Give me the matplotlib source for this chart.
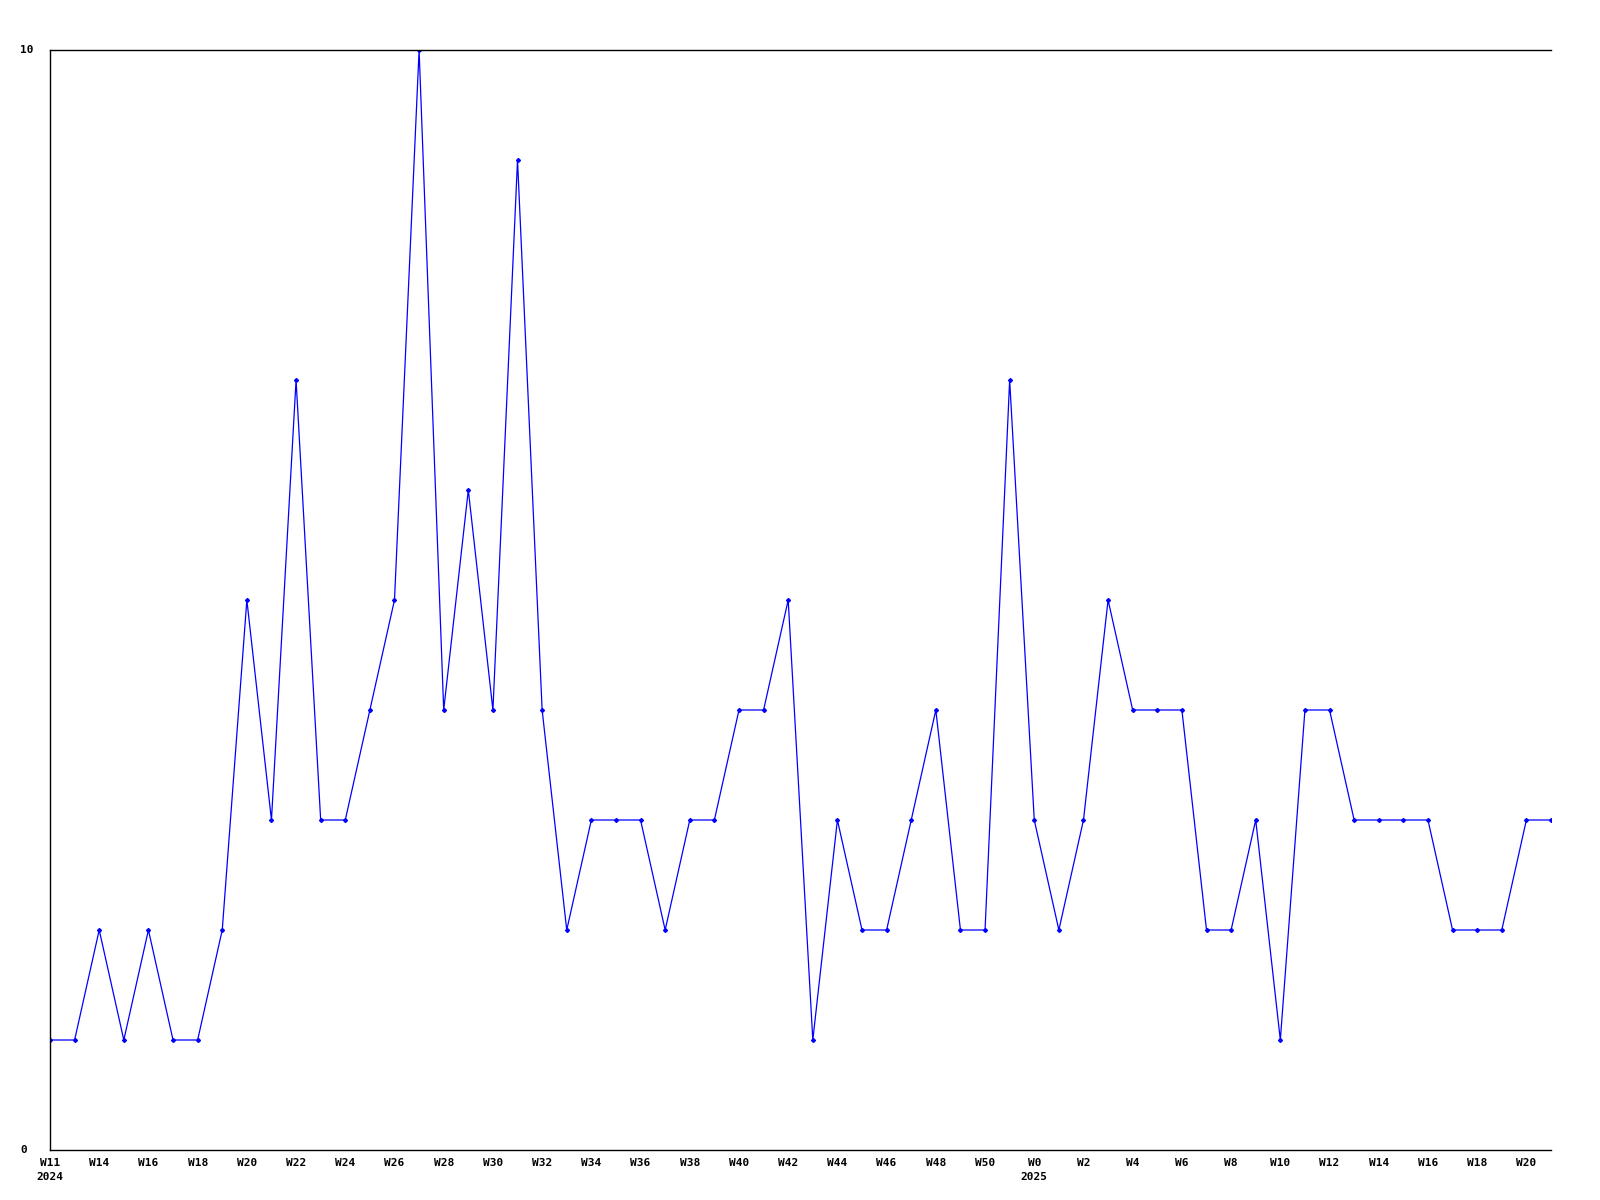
import matplotlib
matplotlib.use("Agg")
import matplotlib.pyplot as plt

weeks = [11, 13, 14, 15, 16, 17, 18, 19, 20, 21, 22, 23, 24, 25, 26, 27, 28, 29, 30, 31,
         32, 33, 34, 35, 36, 37, 38, 39, 40, 41, 42, 43, 44, 45, 46, 47, 48, 49, 50, 51,
         0, 1, 2, 3, 4, 5, 6, 7, 8, 9, 10, 11, 12, 13, 14, 15, 16, 17, 18, 19, 20, 21]
values = [1, 1, 2, 1, 2, 1, 1, 2, 5, 3, 7, 3, 3, 4, 5, 10, 4, 6, 4, 9,
          4, 2, 3, 3, 3, 2, 3, 3, 4, 4, 5, 1, 3, 2, 2, 3, 4, 2, 2, 7,
          3, 2, 3, 5, 4, 4, 4, 2, 2, 3, 1, 4, 4, 3, 3, 3, 3, 2, 2, 2, 3, 3]
year_labels = {0: "2024", 40: "2025"}
y_labels = {10: "10", 0: "0"}

fig = plt.figure(figsize=(16, 12), dpi=100)
ax = fig.add_axes([50/1600, 1 - 1150/1200, 1501/1600, 1100/1200])
x = list(range(len(values)))
ax.plot(x, values, color="#0000ff", lw=0.9, marker="D", ms=2.0, mec="#0000ff", mfc="#0000ff")
ax.set_xlim(0, len(values) - 1)
ax.set_ylim(0, 10)
ax.spines["right"].set_visible(False)
for s in ["left", "bottom", "top"]:
    ax.spines[s].set_color("black")
    ax.spines[s].set_linewidth(1.0)
ax.set_xticks([])
ax.set_yticks([])

font = dict(family="DejaVu Sans Mono", weight="bold", fontsize=8, color="black")
for i in range(0, len(values), 2):
    ax.annotate(f"W{weeks[i]}", xy=(i, 0), xycoords="data", xytext=(0, -13),
                textcoords="offset pixels", ha="center", va="center", **font)
for i, yl in year_labels.items():
    ax.annotate(yl, xy=(i, 0), xycoords="data", xytext=(0, -27),
                textcoords="offset pixels", ha="center", va="center", **font)
for v, t in y_labels.items():
    ax.annotate(t, xy=(0, v), xycoords="data", xytext=(-30, 0),
                textcoords="offset pixels", ha="left", va="center", **font)

fig.savefig("out.png", dpi=100, facecolor="white")
